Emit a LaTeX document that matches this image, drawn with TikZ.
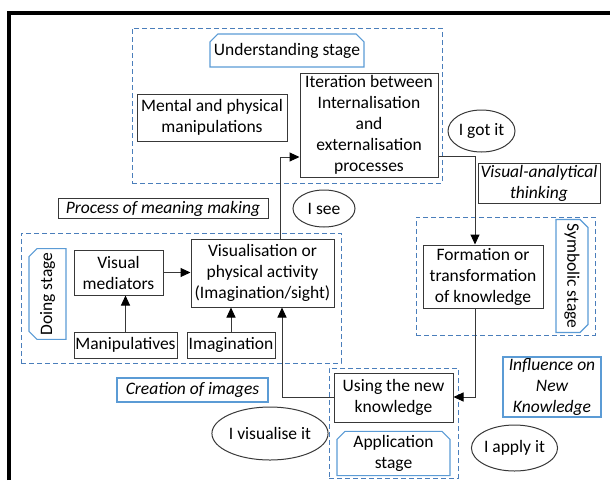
\documentclass[tikz,border=0pt]{standalone}
\usepackage{fontspec}
\setmainfont{Carlito}
\usetikzlibrary{arrows.meta,shapes.geometric,shapes.misc}

\definecolor{boxgray}{RGB}{56,56,56}
\definecolor{dashblue}{RGB}{74,126,187}
\definecolor{tabblue}{RGB}{91,155,213}

\tikzset{
  every node/.style={font=\fontsize{17.5}{21}\selectfont, inner sep=0pt, align=center},
  box/.style={draw=boxgray, line width=1pt, rectangle},
  ibox/.style={box, font=\fontsize{17.5}{21}\selectfont\itshape},
  bluebox/.style={draw=tabblue, line width=1.1pt, rectangle, font=\fontsize{17.5}{21}\selectfont\itshape},
  stagebox/.style={draw=dashblue, line width=1pt, dash pattern=on 5pt off 3pt, rectangle},
  stagetab/.style={draw=tabblue, line width=1.1pt, chamfered rectangle,
    chamfered rectangle corners={north west,north east},
    chamfered rectangle xsep=4pt, chamfered rectangle ysep=4pt},
  thought/.style={draw=boxgray, line width=1pt, ellipse},
  conn/.style={draw=boxgray, line width=1pt, -{Triangle[length=10pt,width=9pt,color=black]}},
}

\begin{document}
\begin{tikzpicture}[x=1pt,y=-1pt]
\useasboundingbox (0,0) rectangle (610,480);

% outer frame (left and top edges)
\draw[line width=4pt, black] (9,480) -- (9,13) -- (610,13);

% stage containers
\node[stagebox, minimum width=310, minimum height=155] (understand) at (287,105.5) {};
\node[stagebox, minimum width=320, minimum height=130] (doing) at (181,298) {};
\node[stagebox, minimum width=179, minimum height=118] (symbolic) at (505.5,276) {};
\node[stagebox, minimum width=129, minimum height=110] (application) at (393.5,423) {};

% stage labels
\node[stagetab, minimum width=154, minimum height=33] (tabU) at (287,50.5) {Understanding stage};
\node[stagetab, rotate=90, minimum width=88, minimum height=37] (tabD) at (47.5,294) {Doing stage};
\node[stagetab, rotate=-90, minimum width=108, minimum height=32] (tabS) at (572,276) {Symbolic stage};
\node[stagetab, minimum width=113, minimum height=39] (tabA) at (393.5,453.5) {Application\\stage};

% process boxes
\node[box, minimum width=150, minimum height=47] (mental) at (212,117.5) {Mental and physical\\manipulations};
\node[box, minimum width=138, minimum height=104] (iter) at (369,125) {Iteration between\\Internalisation\\and\\externalisation\\processes};
\node[box, minimum width=89, minimum height=45] (vm) at (118.5,272.5) {Visual\\mediators};
\node[box, minimum width=143, minimum height=68] (vis) at (262.5,273) {Visualisation or\\physical activity\\(Imagination/sight)};
\node[box, minimum width=103, minimum height=26] (manip) at (125.5,345) {Manipulatives};
\node[box, minimum width=88, minimum height=26] (imag) at (231,345) {Imagination};
\node[box, minimum width=120, minimum height=63] (form) at (483,276.5) {Formation or\\transformation\\of knowledge};
\node[box, minimum width=119, minimum height=49] (use) at (393.5,397.5) {Using the new\\knowledge};

% annotations
\node[ibox, minimum width=122, minimum height=40] (vat) at (539,183) {Visual-analytical\\thinking};
\node[ibox, minimum width=210, minimum height=20] (meaning) at (163,208.5) {Process of meaning making};
\node[bluebox, minimum width=151, minimum height=24] (creation) at (192.5,390) {Creation of images};
\node[bluebox, minimum width=98, minimum height=60] (influence) at (552,387) {Influence on\\New\\Knowledge};

% learner voices
\node[thought, minimum width=67, minimum height=42] (gotit) at (481.5,131) {I got it};
\node[thought, minimum width=62, minimum height=37] (isee) at (324,208.5) {I see};
\node[thought, minimum width=96, minimum height=53] (visit) at (270,433.5) {I visualise it};
\node[thought, minimum width=85, minimum height=46] (applyit) at (514.5,448) {I apply it};

% bends of the main cycle
\coordinate (bendA) at (280,157);
\coordinate (bendB) at (475,156);
\coordinate (bendC) at (475,397);
\coordinate (bendD) at (282,397);

% main cycle
\draw[conn] (vis.north -| bendA) -- (bendA) -- (iter.west |- bendA);
\draw[conn] (iter.east |- bendB) -- (bendB) -- (form.north -| bendB);
\draw[conn] (form.south -| bendC) -- (bendC) -- (use.east |- bendC);
\draw[conn] (use.west |- bendD) -- (bendD) -- (vis.south -| bendD);

% doing stage inputs
\draw[conn] (vm.east) -- (vis.west |- vm.east);
\draw[conn] (manip.north) -- (vm.south -| manip.north);
\draw[conn] (imag.north) -- (vis.south -| imag.north);
\end{tikzpicture}
\end{document}
